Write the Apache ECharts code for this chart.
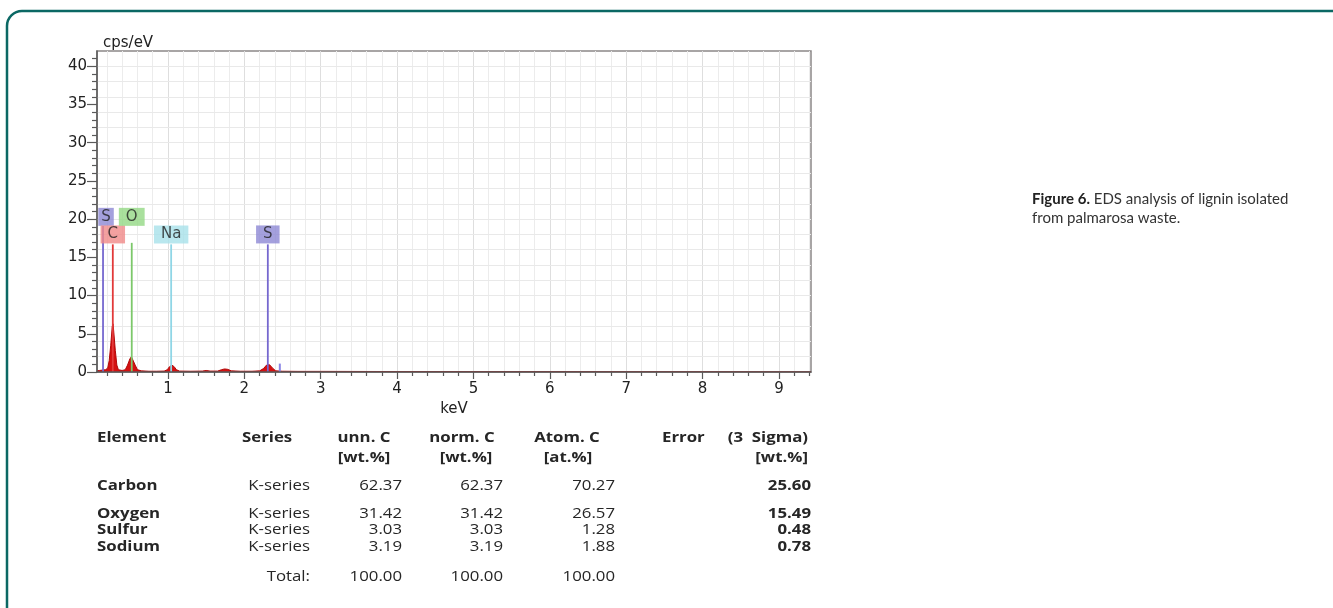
<!DOCTYPE html>
<html>
<head>
<meta charset="utf-8">
<script src="https://cdn.jsdelivr.net/npm/echarts@6/dist/echarts.min.js"></script>
<style>
  html, body { margin: 0; padding: 0; background: #ffffff; }
  #chart { width: 1333px; height: 608px; }
</style>
</head>
<body>
<div id="chart"></div>
<script>
// EDS spectrum: energy (keV) and intensity (cps/eV)
const spectrumKeV = [0.07, 0.10, 0.14, 0.18, 0.21, 0.23, 0.25, 0.27, 0.28, 0.29, 0.31, 0.33, 0.35, 0.40,
  0.44, 0.47, 0.50, 0.52, 0.54, 0.57, 0.60, 0.65, 0.75, 0.85, 0.95, 0.99, 1.02, 1.05, 1.08, 1.11, 1.15,
  1.30, 1.45, 1.50, 1.55, 1.65, 1.70, 1.74, 1.78, 1.83, 1.95, 2.10, 2.20, 2.25, 2.29, 2.31, 2.33, 2.37,
  2.41, 2.50, 2.70, 3.00, 4.00, 5.00, 6.00, 7.00, 8.00, 9.00, 9.42];
const spectrumCps = [0.15, 0.20, 0.25, 0.30, 0.50, 1.50, 3.50, 6.00, 6.30, 5.20, 2.80, 0.90, 0.30, 0.20,
  0.30, 0.90, 1.70, 2.00, 1.80, 0.90, 0.30, 0.15, 0.10, 0.10, 0.12, 0.30, 0.70, 0.90, 0.70, 0.30, 0.12,
  0.10, 0.12, 0.20, 0.12, 0.12, 0.30, 0.40, 0.35, 0.15, 0.10, 0.10, 0.15, 0.45, 0.90, 1.05, 0.95, 0.50,
  0.15, 0.10, 0.08, 0.08, 0.06, 0.05, 0.05, 0.04, 0.04, 0.03, 0.03];

// Characteristic line markers
const markerNames = ['S', 'C', 'O', 'Na', 'S'];
const markerKeV = [0.149, 0.277, 0.525, 1.041, 2.307];
const markerTop = [19.1, 16.7, 16.9, 16.7, 16.7];
const markerLabelLevel = [20.3, 18.0, 20.3, 18.0, 18.0];
const sKbetaKeV = 2.464;
const sKbetaTop = 1.1;

// Axis tick labels
const xTickLabels = [1, 2, 3, 4, 5, 6, 7, 8, 9];
const yTickLabels = [0, 5, 10, 15, 20, 25, 30, 35, 40];

// Quantification table
const elements = ['Carbon', 'Oxygen', 'Sulfur', 'Sodium'];
const lineSeries = ['K-series', 'K-series', 'K-series', 'K-series'];
const unnC = [62.37, 31.42, 3.03, 3.19];
const normC = [62.37, 31.42, 3.03, 3.19];
const atomC = [70.27, 26.57, 1.28, 1.88];
const sigmaErr = [25.60, 15.49, 0.48, 0.78];
const totals = [100.00, 100.00, 100.00];

// ---- styling ----
const markerLineColors = ['#7668cf', '#e23a3a', '#7cc86a', '#8fd6e6', '#7668cf'];
const markerBoxColors = ['#8d88d4', '#f08a88', '#93d884', '#a8e1ea', '#8d88d4'];
const axisFont = 'DejaVu Sans';
const X_MIN = 0.07, X_MAX = 9.42, Y_MIN = 0, Y_MAX = 42;

// minor tick / grid positions
const xMinor = [], xGrid = [];
for (let i = 1; i <= 47; i++) {
  const v = Math.round(i * 0.2 * 10) / 10;
  xGrid.push(v);
  if (Math.abs(v - Math.round(v)) > 1e-6) xMinor.push(v);
}
const yMinor = [], yGrid = [];
for (let i = 1; i <= 41; i++) {
  if (i % 5 !== 0) yMinor.push(i);
  if (i % 2 === 0) yGrid.push(i);
}

const series = [];

// background grid lines
series.push({
  type: 'line', xAxisIndex: 0, yAxisIndex: 0, data: [], silent: true,
  markLine: {
    z: 1, silent: true, symbol: 'none', animation: false,
    label: { show: false },
    lineStyle: { color: '#e9e9e9', width: 1, type: 'solid' },
    emphasis: { disabled: true },
    data: xGrid.map(v => ({ xAxis: v, lineStyle: { color: (Math.abs(v - Math.round(v)) < 1e-6) ? '#dedede' : '#ececec' } }))
      .concat(yGrid.map(v => ({ yAxis: v })))
  }
});

// spectrum
series.push({
  type: 'line', xAxisIndex: 0, yAxisIndex: 0, z: 3,
  data: spectrumKeV.map((x, i) => [x, spectrumCps[i]]),
  symbol: 'none', smooth: false,
  lineStyle: { color: '#b00808', width: 1 },
  areaStyle: { color: '#d41010', opacity: 1 }
});

// element marker lines
markerKeV.forEach((x, i) => {
  series.push({
    type: 'line', xAxisIndex: 0, yAxisIndex: 0, z: 4, symbol: 'none',
    data: [[x, 0], [x, markerTop[i]]],
    lineStyle: { color: markerLineColors[i], width: 1.8 }
  });
});
series.push({
  type: 'line', xAxisIndex: 0, yAxisIndex: 0, z: 4, symbol: 'none',
  data: [[sKbetaKeV, 0], [sKbetaKeV, sKbetaTop]],
  lineStyle: { color: '#8a86e6', width: 2 }
});

// element labels
markerKeV.forEach((x, i) => {
  series.push({
    type: 'scatter', xAxisIndex: 0, yAxisIndex: 0, z: 6, silent: true,
    symbolSize: 1, itemStyle: { color: 'rgba(0,0,0,0)' },
    data: [[x, markerLabelLevel[i]]],
    label: {
      show: true, position: 'inside', formatter: markerNames[i],
      offset: i === 0 ? [3, 0] : [0, 0],
      fontFamily: axisFont, fontSize: 15, color: '#1e1e1e',
      backgroundColor: markerBoxColors[i],
      padding: i === 0 ? [2, 3, 1, 3] : [2, 7, 1, 7],
      lineHeight: 15
    }
  });
});

// ---- table & caption drawn as graphic text ----
const SX = 1.2; // table type is set horizontally wide
const tFont = '14px "Open Sans"';
const tBold = 'bold 14px "Open Sans"';
const tableTexts = [];
function cell(text, x, y, align, bold) {
  tableTexts.push({
    type: 'text', x: x / SX, y: y, silent: true,
    style: { text: String(text), font: bold ? tBold : tFont, fill: '#262626', align: align, verticalAlign: 'middle' }
  });
}
const H1 = 438.5, H2 = 458.5;
cell('Element', 97, H1, 'left', true);
cell('Series', 242, H1, 'left', true);
cell('unn. C', 364, H1, 'center', true);
cell('[wt.%]', 364, H2, 'center', true);
cell('norm. C', 462, H1, 'center', true);
cell('[wt.%]', 466, H2, 'center', true);
cell('Atom. C', 567, H1, 'center', true);
cell('[at.%]', 568, H2, 'center', true);
cell('Error', 662, H1, 'left', true);
cell('(3  Sigma)', 808, H1, 'right', true);
cell('[wt.%]', 808, H2, 'right', true);
const rowY = [486.5, 514, 530.5, 547.5];
elements.forEach((el, i) => {
  cell(el, 97, rowY[i], 'left', true);
  cell(lineSeries[i], 310, rowY[i], 'right', false);
  cell(unnC[i].toFixed(2), 402, rowY[i], 'right', false);
  cell(normC[i].toFixed(2), 503, rowY[i], 'right', false);
  cell(atomC[i].toFixed(2), 615, rowY[i], 'right', false);
  cell(sigmaErr[i].toFixed(2), 811, rowY[i], 'right', true);
});
const totalY = 577;
cell('Total:', 310, totalY, 'right', false);
cell(totals[0].toFixed(2), 402, totalY, 'right', false);
cell(totals[1].toFixed(2), 503, totalY, 'right', false);
cell(totals[2].toFixed(2), 615, totalY, 'right', false);

const chart = echarts.init(document.getElementById('chart'), null, { renderer: 'canvas' });
chart.setOption({
  animation: false,
  backgroundColor: '#ffffff',
  grid: {
    left: 97, top: 51, right: 522, bottom: 236,
    show: true, backgroundColor: '#ffffff', borderColor: '#8c8888', borderWidth: 1.5
  },
  xAxis: [
    {
      type: 'value', min: X_MIN, max: X_MAX, position: 'bottom', z: 5,
      name: 'keV', nameLocation: 'middle', nameGap: 34,
      nameTextStyle: { fontFamily: axisFont, fontSize: 15, color: '#222', verticalAlign: 'middle' },
      axisLine: { show: true, onZero: false, lineStyle: { color: '#5a5a5a', width: 1.5 } },
      axisTick: { show: true, customValues: xTickLabels, length: 7, lineStyle: { color: '#5a5a5a', width: 1.2 } },
      axisLabel: { show: true, customValues: xTickLabels, margin: 10, fontFamily: axisFont, fontSize: 15, color: '#222' },
      splitLine: { show: false }
    },
    {
      type: 'value', min: X_MIN, max: X_MAX, position: 'bottom', z: 5,
      axisLine: { show: false, onZero: false },
      axisTick: { show: true, customValues: xMinor, length: 4, lineStyle: { color: '#5a5a5a', width: 1.2 } },
      axisLabel: { show: false },
      splitLine: { show: false }
    }
  ],
  yAxis: [
    {
      type: 'value', min: Y_MIN, max: Y_MAX, position: 'left', z: 5,
      name: 'cps/eV', nameLocation: 'end', nameGap: 8,
      nameTextStyle: { fontFamily: axisFont, fontSize: 15, color: '#222', align: 'left', verticalAlign: 'middle', padding: [0, 0, 0, 6] },
      axisLine: { show: true, onZero: false, lineStyle: { color: '#5a5a5a', width: 1.5 } },
      axisTick: { show: true, customValues: yTickLabels, length: 10, lineStyle: { color: '#5a5a5a', width: 1.2 } },
      axisLabel: { show: true, customValues: yTickLabels, margin: 10, fontFamily: axisFont, fontSize: 15, color: '#222' },
      splitLine: { show: false }
    },
    {
      type: 'value', min: Y_MIN, max: Y_MAX, position: 'left', z: 5,
      axisLine: { show: false, onZero: false },
      axisTick: { show: true, customValues: yMinor, length: 5, lineStyle: { color: '#5a5a5a', width: 1.2 } },
      axisLabel: { show: false },
      splitLine: { show: false }
    }
  ],
  series: series,
  graphic: [
    {
      type: 'rect', silent: true, z: 100,
      shape: { x: 7, y: 11, width: 1360, height: 620, r: 15 },
      style: { fill: 'none', stroke: '#0b6864', lineWidth: 2.5 }
    },
    { type: 'group', scaleX: SX, silent: true, children: tableTexts },
    {
      type: 'text', x: 1032, y: 199, silent: true,
      style: {
        text: '{b|Figure 6.} EDS analysis of lignin isolated',
        font: '15px Lato', fill: '#333', verticalAlign: 'middle',
        rich: { b: { font: 'bold 15px Lato', fill: '#222' } }
      }
    },
    {
      type: 'text', x: 1032, y: 218, silent: true,
      style: { text: 'from palmarosa waste.', font: '15px Lato', fill: '#333', verticalAlign: 'middle' }
    }
  ]
});
</script>
</body>
</html>
